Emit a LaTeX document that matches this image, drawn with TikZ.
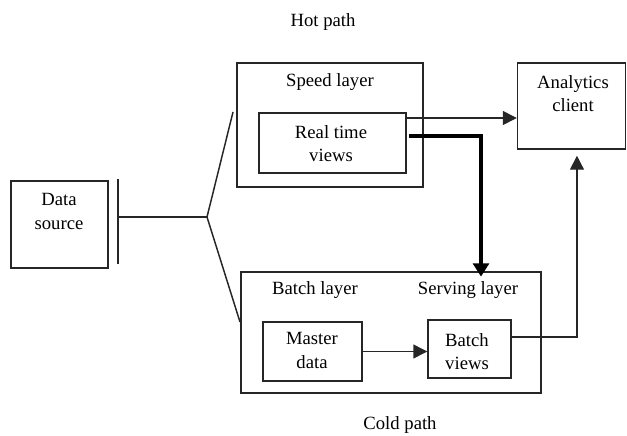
\documentclass[tikz,border=0pt]{standalone}
\usepackage{fontspec}
\setmainfont{Liberation Serif}
\usetikzlibrary{arrows.meta}
\begin{document}
\begin{tikzpicture}[x=0.75pt,y=-0.75pt,
  font=\fontsize{14pt}{17.5pt}\selectfont,
  box/.style={draw=black!85, line width=1.1pt, inner sep=0pt},
  txt/.style={align=center, inner sep=0pt},
  link/.style={draw=black!85, line width=1.1pt},
  arr/.style={link, -{Triangle[length=10.5pt,width=10.5pt]}},
  heavyarr/.style={draw=black, line width=2.4pt, -{Triangle[length=10pt,width=12pt]}}]
\useasboundingbox (0,0) rectangle (627,435);

% boxes
\node[box, minimum width=72.75pt, minimum height=65.25pt] (ds) at (59.5,224.5) {};
\node[box, minimum width=139.5pt, minimum height=93pt] (speed) at (330,125) {};
\node[box, minimum width=110.25pt, minimum height=45pt] (rt) at (332.5,143) {};
\node[box, minimum width=81pt, minimum height=64.5pt] (ac) at (571.5,106) {};
\node[box, minimum width=225pt, minimum height=90.75pt] (batch) at (391,332.5) {};
\node[box, minimum width=74.25pt, minimum height=44.25pt] (ms) at (312.5,351.5) {};
\node[box, minimum width=62.25pt, minimum height=43.5pt] (bv) at (469.5,349) {};

% labels
\node[txt] (dsl) at (59,211.5) {Data\\source};
\node[txt] (speedl) at (330,82) {Speed layer};
\node[txt] (rtl) at (331,143.5) {Real time\\views};
\node[txt] (acl) at (573,93.5) {Analytics\\client};
\node[txt] (batchl) at (315,290) {Batch layer};
\node[txt] (servl) at (468,290) {Serving layer};
\node[txt] (msl) at (312,350.5) {Master\\data};
\node[txt] (bvl) at (467,351.5) {Batch\\views};
\node[txt] (hot) at (323,22) {Hot path};
\node[txt] (cold) at (400,425) {Cold path};

% fork from the data source
\coordinate (barT) at (118,179);
\coordinate (barB) at (118,264);
\coordinate (barM) at (118,217);
\coordinate (fork) at (207,217);
\coordinate (upE) at (233,112);
\coordinate (dnE) at (240,322);
\draw[link] (barT) -- (barB);
\draw[link] (barM) -- (fork);
\draw[link] (upE) -- (fork) -- (dnE);

% data flow
\draw[arr] ([yshift=18.75pt]rt.east) -- ([yshift=18.75pt]rt.east -| ac.west);
\draw[heavyarr] ([xshift=1.5pt,yshift=5.25pt]rt.east) -| ([xshift=67.5pt,yshift=-4pt]batch.north);
\draw[arr] (ms.east) -- (ms.east -| bv.west);
\draw[arr, shorten >=4.5pt] ([yshift=9pt]bv.east) -| ([xshift=4.1pt]ac.south);
\end{tikzpicture}
\end{document}
